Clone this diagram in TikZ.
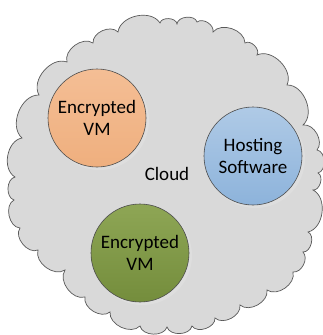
\documentclass[tikz,border=0pt]{standalone}
\usepackage{fontspec}
\setmainfont{Carlito}
\begin{document}
\begin{tikzpicture}[x=1pt,y=-1pt,
  vm/.style={circle, draw=black!70, line width=0.6pt, minimum size=98pt, inner sep=0pt,
    align=center, font=\fontsize{19}{22}\selectfont},
  lbl/.style={font=\fontsize{19}{22}\selectfont}]
\useasboundingbox (0,0) rectangle (323,335);
\clip (0,0) rectangle (323,335);
\definecolor{cloudfill}{HTML}{D9D9D9}
\definecolor{cloudline}{HTML}{595959}
\definecolor{orA}{HTML}{F4BE95}
\definecolor{orB}{HTML}{EFAF7E}
\definecolor{blA}{HTML}{AFCAE6}
\definecolor{blB}{HTML}{8DB3DB}
\definecolor{grA}{HTML}{8EA655}
\definecolor{grB}{HTML}{748D3C}
% cloud outline
\draw[fill=cloudfill, draw=cloudline, line width=0.7pt]
  (67,62) to[bend left=70] (93,43) to[bend left=70] (118,32) to[bend left=70] (160,23)
  to[bend left=80] (177,24) to[bend left=80] (197,22) to[bend left=70] (213,32)
  to[bend left=70] (245,43) to[bend left=80] (257,55) to[bend left=70] (287,85)
  to[bend left=70] (303,125) to[bend left=70] (317,150) to[bend left=80] (318,173)
  to[bend left=80] (313,190) to[bend left=70] (308,232) to[bend left=80] (303,252)
  to[bend left=70] (293,272) to[bend left=70] (267,290) to[bend left=70] (240,305)
  to[bend left=70] (215,318) to[bend left=75] (192,326) to[bend left=75] (167,327)
  to[bend left=75] (140,326) to[bend left=70] (110,312) to[bend left=70] (85,297)
  to[bend left=70] (65,270) to[bend left=70] (38,250) to[bend left=75] (20,228)
  to[bend left=75] (14,200) to[bend left=75] (15,177) to[bend left=70] (22,138)
  to[bend left=70] (39,95) to[bend left=70] (67,62) -- cycle;
% shadows
\fill[black!13] (99.5,120.5) circle (49.5);
\fill[black!13] (255.5,158.5) circle (49.5);
\fill[black!13] (142.5,255.5) circle (49.5);
\node[vm, top color=orA, bottom color=orB] (vm1) at (97,118) {Encrypted\\VM};
\node[vm, top color=blA, bottom color=blB] (hs) at (253,156) {Hosting\\Software};
\node[vm, top color=grA, bottom color=grB] (vm2) at (140,253) {Encrypted\\VM};
\node[lbl] (cloud) at (167,174) {Cloud};
\end{tikzpicture}
\end{document}
